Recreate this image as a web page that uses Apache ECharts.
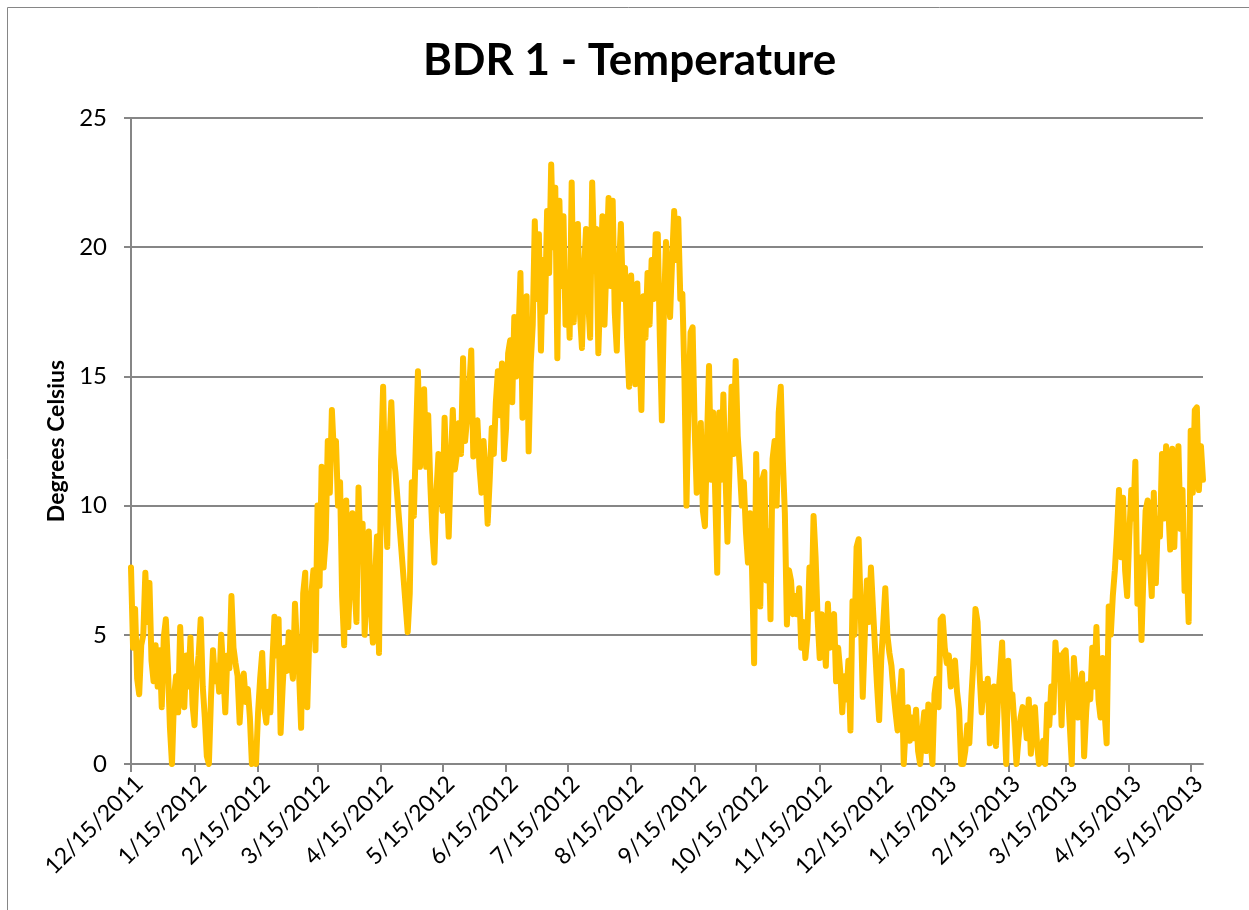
<!DOCTYPE html>
<html>
<head>
<meta charset="utf-8">
<title>BDR 1 - Temperature</title>
<script src="https://cdn.jsdelivr.net/npm/echarts@6/dist/echarts.min.js"></script>
<style>
  html, body { margin: 0; padding: 0; background: #fff; }
  #main { width: 1249px; height: 910px; }
</style>
</head>
<body>
<div id="main"></div>
<script>
// daily readings, each array runs from the 15th to the 14th of the next month
// null = no reading (logger gap in late April 2012)
const dec11 = [7.6, 4.5, 6.0, 3.3, 2.7, 4.6, 5.0, 7.4, 5.5, 7.0, 4.0, 3.2, 4.6, 3.0, 4.4, 2.2, 4.9, 5.6, 3.8, 1.4, 0.0, 2.6, 3.4, 2.0, 5.3, 3.2, 2.2, 4.2, 3.0, 4.9, 2.3]
const jan12 = [1.5, 3.5, 4.2, 5.6, 3.0, 1.8, 0.3, 0.0, 2.5, 4.4, 3.2, 3.8, 2.8, 5.0, 3.6, 2.0, 4.2, 3.7, 6.5, 4.5, 3.9, 3.4, 1.6, 3.0, 3.5, 2.4, 2.9, 1.8, 0.0, 0.3, 0.0]
const feb12 = [2.0, 3.3, 4.3, 2.2, 1.6, 2.8, 2.0, 4.0, 5.7, 4.2, 5.6, 1.2, 3.0, 4.5, 3.6, 5.1, 4.0, 3.3, 6.2, 4.5, 3.5, 1.4, 6.6, 7.4, 2.2, 5.0, 6.6, 7.5, 4.4]
const mar12 = [10.0, 6.9, 11.5, 7.6, 8.7, 12.5, 10.5, 13.7, 12.0, 12.5, 10.0, 10.9, 6.5, 4.6, 10.2, 5.3, 7.5, 9.7, 7.0, 5.5, 10.7, 8.0, 9.3, 5.0, 7.5, 9.0, 6.0, 4.7, 7.0, 8.8, 4.3]
const apr12 = [11.7, 14.6, 10.5, 8.4, 12.2, 14.0, 12.0, 11.3, null, null, null, null, null, 5.1, 6.6, 10.9, 9.6, 12.5, 15.2, 11.5, 13.0, 14.5, 11.5, 13.5, 10.9, 9.0, 7.8, 10.5, 12.0, 11.0]
const may12 = [9.8, 13.4, 11.0, 8.8, 11.5, 13.7, 11.4, 12.0, 13.2, 12.0, 15.7, 12.5, 13.4, 14.5, 16.0, 11.9, 12.8, 13.3, 11.5, 10.5, 12.5, 11.2, 9.3, 11.0, 13.0, 12.0, 14.0, 15.2, 13.5, 15.5, 11.8]
const jun12 = [13.0, 15.9, 16.4, 14.0, 17.3, 15.0, 16.5, 19.0, 13.4, 16.0, 18.1, 12.1, 15.5, 17.0, 21.0, 18.0, 20.5, 16.0, 19.5, 17.5, 21.4, 19.0, 23.2, 20.0, 22.3, 15.7, 21.8, 18.5, 21.2, 17.0]
const jul12 = [18.9, 16.5, 22.5, 17.1, 19.5, 20.9, 17.5, 16.1, 19.0, 20.7, 18.0, 16.5, 22.5, 19.5, 20.7, 15.9, 18.5, 21.2, 17.0, 19.5, 21.9, 18.5, 21.8, 17.5, 16.0, 19.0, 20.9, 18.0, 19.2, 16.5, 14.6]
const aug12 = [18.9, 17.0, 14.7, 18.6, 16.0, 13.7, 18.1, 16.5, 19.0, 17.0, 19.5, 18.0, 20.5, 20.5, 16.5, 13.3, 17.5, 20.2, 18.5, 17.3, 19.5, 21.4, 19.5, 21.1, 18.0, 18.2, 15.0, 10.0, 14.0, 16.7, 16.9]
const sep12 = [13.0, 10.5, 12.0, 13.2, 9.8, 9.2, 12.5, 15.4, 11.0, 13.6, 10.5, 7.4, 13.6, 11.0, 14.3, 11.3, 8.6, 11.5, 14.6, 12.0, 15.6, 12.7, 11.5, 10.0, 10.9, 9.0, 7.8, 9.7, 7.5, 3.9]
const oct12 = [12.0, 8.0, 6.1, 11.0, 11.3, 7.1, 9.0, 5.6, 11.8, 12.5, 10.0, 13.6, 14.6, 11.8, 9.7, 5.4, 7.5, 7.1, 5.8, 6.5, 5.8, 6.8, 4.5, 5.5, 4.1, 5.0, 7.6, 6.0, 9.6, 8.0, 5.6]
const nov12 = [4.1, 5.8, 5.0, 3.8, 6.2, 4.5, 5.5, 5.8, 3.2, 4.5, 3.6, 2.0, 3.4, 2.5, 4.0, 1.3, 6.3, 5.0, 8.4, 8.7, 6.0, 2.6, 5.0, 7.1, 5.5, 7.6, 6.0, 4.5, 3.0, 1.7]
const dec12 = [4.0, 5.4, 6.8, 5.0, 4.3, 3.8, 2.8, 2.0, 1.3, 2.5, 3.6, 0.0, 1.5, 2.2, 0.9, 1.8, 1.0, 2.1, 0.5, 0.0, 1.2, 2.0, 0.5, 2.3, 1.0, 0.0, 2.7, 3.3, 2.2, 5.6, 5.7]
const jan13 = [4.5, 3.9, 4.2, 3.0, 3.8, 4.0, 2.8, 2.1, 0.0, 0.0, 0.5, 1.5, 0.8, 2.6, 4.0, 6.0, 5.5, 3.5, 2.0, 3.1, 2.5, 3.3, 0.8, 1.8, 3.0, 0.7, 2.5, 3.5, 4.7, 2.0, 0.0]
const feb13 = [4.0, 2.5, 2.7, 1.5, 0.0, 1.0, 1.8, 2.2, 2.0, 1.0, 2.5, 0.4, 1.5, 2.2, 0.8, 0.0, 0.3, 0.9, 0.0, 2.3, 1.5, 3.0, 2.0, 4.7, 3.5, 4.2, 1.5, 4.3]
const mar13 = [4.4, 2.9, 1.5, 0.0, 4.1, 3.0, 1.8, 3.0, 3.5, 0.3, 2.0, 3.1, 2.5, 4.5, 3.0, 5.3, 2.5, 1.8, 4.1, 2.0, 0.8, 6.1, 5.0, 6.5, 7.5, 8.9, 10.6, 8.0, 10.3, 7.5, 6.5]
const apr13 = [8.8, 10.6, 9.5, 11.7, 6.2, 8.0, 4.8, 7.5, 9.8, 10.2, 8.0, 6.5, 10.5, 7.0, 9.5, 8.8, 12.0, 9.5, 12.3, 10.0, 8.3, 12.2, 8.4, 11.0, 12.3, 9.1, 10.6, 6.7, 8.0, 5.5]
const may13 = [12.9, 10.5, 13.7, 13.8, 10.6, 12.3, 11.0]

const temps = [].concat(dec11, jan12, feb12, mar12, apr12, may12, jun12, jul12, aug12,
  sep12, oct12, nov12, dec12, jan13, feb13, mar13, apr13, may13)

// one category per day starting 12/15/2011
const startDate = new Date(2011, 11, 15)
const dates = temps.map((v, i) => {
  const d = new Date(startDate.getFullYear(), startDate.getMonth(), startDate.getDate() + i)
  return (d.getMonth() + 1) + '/' + d.getDate() + '/' + d.getFullYear()
})

// ticks and labels only on the 15th of each month
const onThe15th = (idx, val) => val.split('/')[1] === '15'

const gray = '#868686'
const font = 'Lato, "Open Sans", sans-serif'

const myChart = echarts.init(document.getElementById('main'))
myChart.setOption({
  backgroundColor: '#fff',
  animation: false,
  title: {
    text: 'BDR 1 - Temperature',
    left: 418,
    top: 34,
    textStyle: { fontFamily: font, fontWeight: 'bold', fontSize: 44, color: '#000' }
  },
  graphic: [{
    type: 'rect',
    shape: { x: 7.5, y: 7.5, width: 1400, height: 1000 },
    style: { fill: 'none', stroke: gray, lineWidth: 1 },
    silent: true
  }],
  grid: { left: 131, right: 46, top: 118, bottom: 146 },
  xAxis: {
    type: 'category',
    data: dates,
    boundaryGap: false,
    axisLine: { lineStyle: { color: gray, width: 2 } },
    axisTick: { interval: onThe15th, length: 8, lineStyle: { color: gray, width: 2 } },
    axisLabel: {
      interval: onThe15th, rotate: 45, margin: 8, verticalAlign: 'top',
      fontFamily: font, fontSize: 23, color: '#000'
    },
    splitLine: { show: false }
  },
  yAxis: {
    type: 'value',
    min: 0,
    max: 25,
    interval: 5,
    name: 'Degrees Celsius',
    nameLocation: 'middle',
    nameGap: 62,
    nameTextStyle: { fontFamily: font, fontWeight: 'bold', fontSize: 23, color: '#000' },
    axisLine: { show: true, lineStyle: { color: gray, width: 2 } },
    axisTick: { show: true, length: 7, lineStyle: { color: gray, width: 2 } },
    axisLabel: { margin: 24, fontFamily: font, fontSize: 24, color: '#000' },
    splitLine: { lineStyle: { color: gray, width: 2 } }
  },
  series: [{
    name: 'Temperature',
    type: 'line',
    data: temps,
    showSymbol: false,
    connectNulls: true,
    color: '#FFC000',
    lineStyle: { color: '#FFC000', width: 6, join: 'round', cap: 'round' }
  }]
})
</script>
</body>
</html>
